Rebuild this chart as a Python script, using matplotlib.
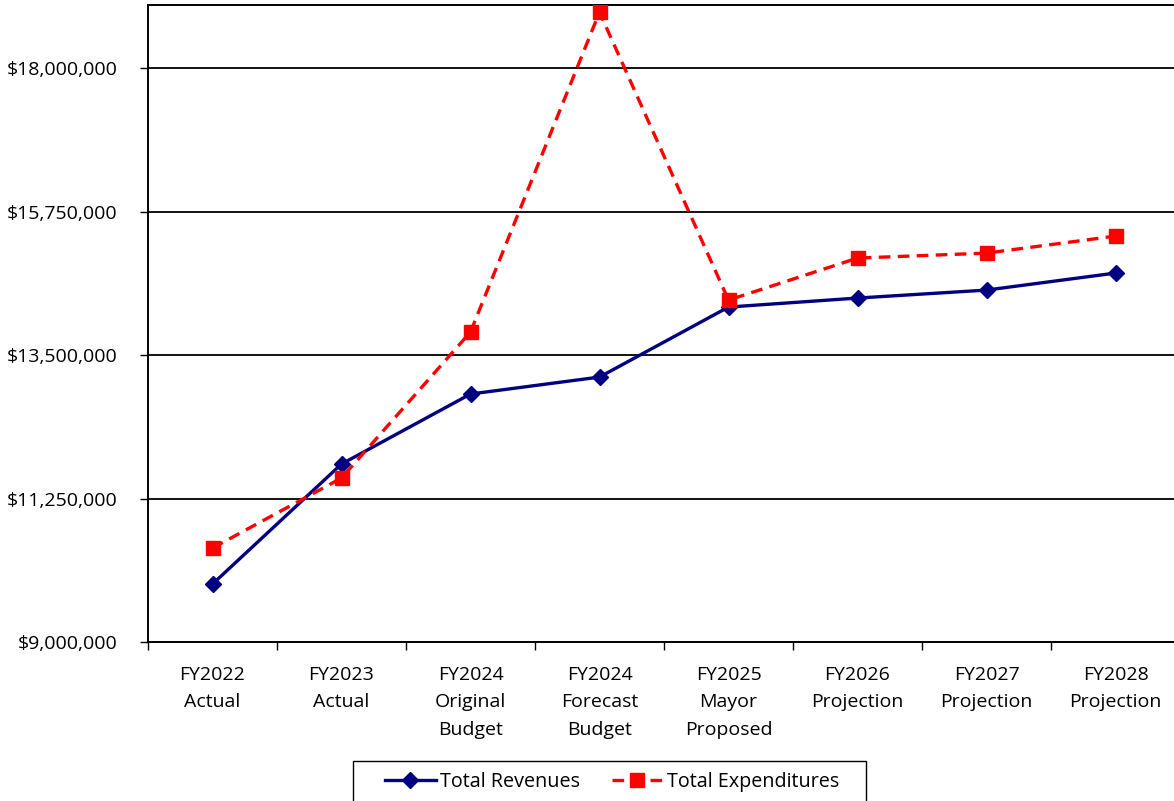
import matplotlib.pyplot as plt
from matplotlib.ticker import FuncFormatter, FixedLocator
from matplotlib.patches import Rectangle
import numpy as np

plt.rcParams['font.family'] = ['Open Sans', 'DejaVu Sans']

categories = ["FY2022\nActual", "FY2023\nActual", "FY2024\nOriginal\nBudget",
              "FY2024\nForecast\nBudget", "FY2025\nMayor\nProposed",
              "FY2026\nProjection", "FY2027\nProjection", "FY2028\nProjection"]
revenues = [9909000, 11791000, 12889000, 13155000, 14253000, 14394000, 14519000, 14786000]
expenditures = [10474000, 11571000, 13861000, 18878000, 14362000, 15021000, 15099000, 15366000]
y_ticks = [9000000, 11250000, 13500000, 15750000, 18000000]

W, H = 1174, 801
fig = plt.figure(figsize=(W / 100, H / 100), dpi=100)
ax = fig.add_axes([148 / W, 1 - 642 / H, (1180 - 148) / W, (642 - 5) / H])

x = np.arange(len(categories))
ax.plot(x, revenues, color="#000080", lw=2.4, marker="D", ms=8.5,
        label="Total Revenues", zorder=3)
ax.plot(x, expenditures, color="#FF0000", lw=2.4, ls=(0, (3.5, 2.2)), marker="s", ms=10,
        label="Total Expenditures", zorder=4)

ax.set_xlim(-0.5, len(categories) - 0.5)
ax.set_ylim(9000000, 18990000)
ax.set_yticks(y_ticks)
ax.yaxis.set_major_formatter(FuncFormatter(lambda v, p: "${:,.0f}".format(v)))
ax.grid(axis="y", color="black", lw=1.3)
ax.set_axisbelow(True)

ax.set_xticks(x)
ax.set_xticklabels(categories, fontsize=14, linespacing=1.7, va="top")
ax.xaxis.set_minor_locator(FixedLocator(np.arange(-0.5, len(categories), 1.0)))
ax.tick_params(axis="x", which="major", length=0, pad=17)
ax.tick_params(axis="x", which="minor", length=6, width=1, color="black")
ax.tick_params(axis="y", length=6, width=1, pad=16, labelsize=14)

for s in ["left", "top", "bottom", "right"]:
    ax.spines[s].set_linewidth(1.4)
    ax.spines[s].set_color("black")

# legend box drawn separately so the padding can differ left/right vs top
box = Rectangle((353 / W, -4 / H), (866 - 353) / W, 44 / H, transform=fig.transFigure,
                fill=False, edgecolor="black", lw=1.0)
fig.add_artist(box)
leg = fig.legend(loc="center left", bbox_to_anchor=(385 / W, 1 - 782 / H), ncol=2,
                 fontsize=14.2, frameon=False, handlelength=2.58, handletextpad=0.2,
                 columnspacing=1.62, borderpad=0, borderaxespad=0)

fig.savefig("out.png", dpi=100)
